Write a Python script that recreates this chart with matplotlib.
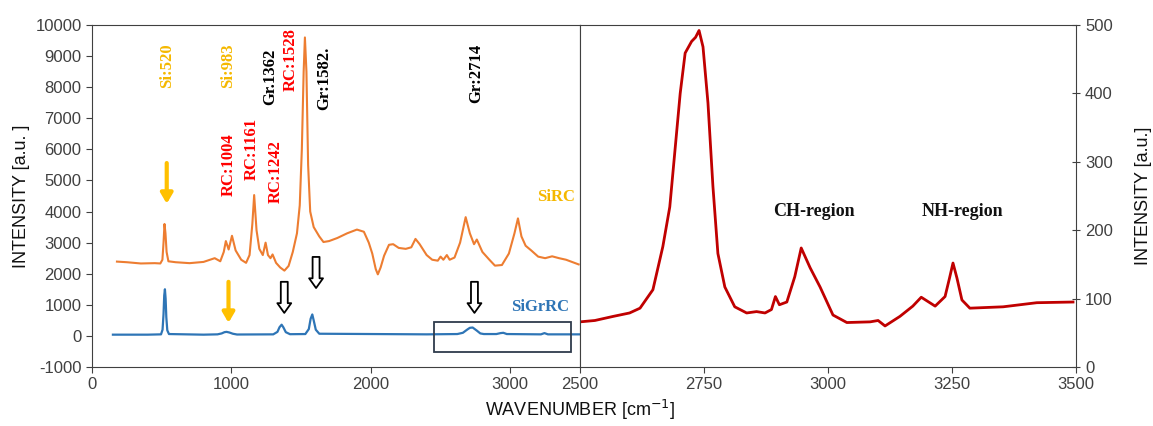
import matplotlib
matplotlib.use("Agg")
import matplotlib.pyplot as plt
from matplotlib.patches import Rectangle

# ---------------- data ----------------
sirc_x = [179, 250, 350, 450, 490, 505, 513, 520, 527, 535, 548, 600, 700, 800, 880, 920, 945, 960, 980,
          1004, 1030, 1070, 1105, 1130, 1150, 1163, 1180, 1200, 1225, 1245, 1262, 1280, 1295,
          1320, 1350, 1380, 1410, 1440, 1470, 1490, 1505, 1518, 1527, 1538, 1550, 1565, 1590,
          1610, 1630, 1660, 1700, 1760, 1830, 1900, 1950, 1985, 2010, 2035, 2050, 2070, 2095,
          2130, 2160, 2200, 2250, 2290, 2320, 2350, 2400, 2440, 2480, 2500, 2520, 2545, 2565,
          2600, 2640, 2680, 2710, 2740, 2760, 2800, 2850, 2890, 2940, 2990, 3030, 3055, 3080,
          3110, 3150, 3200, 3250, 3300, 3350, 3400, 3460, 3490]
sirc_y = [2390, 2370, 2330, 2340, 2330, 2450, 3000, 3600, 3300, 2700, 2400, 2370, 2340, 2380, 2500, 2400,
          2700, 3050, 2780, 3220, 2750, 2450, 2350, 2600, 3600, 4530, 3400, 2800, 2600, 3000,
          2600, 2500, 2620, 2350, 2200, 2100, 2250, 2700, 3300, 4200, 6000, 8500, 9600, 8500,
          5500, 4000, 3500, 3350, 3200, 3020, 3050, 3150, 3300, 3420, 3350, 3000, 2650, 2150,
          1980, 2200, 2580, 2930, 2950, 2830, 2800, 2850, 3120, 2950, 2600, 2450, 2420, 2550,
          2450, 2600, 2450, 2520, 3000, 3820, 3300, 2950, 3100, 2700, 2450, 2260, 2280, 2650,
          3300, 3780, 3200, 2900, 2750, 2550, 2500, 2560, 2500, 2450, 2350, 2300]

sigrrc_x = [150, 400, 495, 506, 513, 518, 523, 528, 533, 540, 552, 800, 900, 930, 950, 965, 985,
            1010, 1040, 1300, 1330, 1345, 1360, 1372, 1390, 1420, 1530, 1555, 1568, 1580, 1590,
            1605, 1630, 2400, 2620, 2660, 2690, 2710, 2730, 2760, 2785, 2810, 2900, 2930, 2950,
            2975, 3220, 3245, 3270, 3500]
sigrrc_y = [40, 40, 50, 200, 700, 1300, 1500, 1200, 600, 180, 60, 40, 50, 80, 120, 130, 110,
            70, 45, 50, 130, 280, 360, 280, 120, 55, 60, 220, 550, 690, 500, 200, 70, 50, 60,
            100, 200, 260, 270, 170, 80, 60, 60, 90, 100, 60, 50, 90, 50, 50]

zoom_x = [2500, 2530, 2567, 2600, 2621, 2647, 2667, 2681, 2691, 2702, 2712, 2725, 2733, 2740,
          2748, 2758, 2768, 2778, 2792, 2812, 2836, 2856, 2873, 2886, 2894, 2902, 2917, 2933,
          2946, 2964, 2984, 3010, 3038, 3085, 3101, 3115, 3145, 3171, 3188, 3216, 3236, 3245,
          3252, 3260, 3270, 3286, 3353, 3421, 3494]
zoom_y = [66, 68, 74, 79, 86, 113, 176, 234, 313, 400, 459, 476, 482, 492, 468, 386, 264, 166,
          117, 88, 79, 81, 79, 84, 103, 91, 95, 132, 174, 145, 117, 76, 65, 66, 68, 60, 74, 89,
          102, 89, 103, 130, 152, 130, 98, 86, 88, 94, 95]

left_yticks = [-1000, 0, 1000, 2000, 3000, 4000, 5000, 6000, 7000, 8000, 9000, 10000]
left_xticks = [0, 1000, 2000, 3000]
right_xticks = [2500, 2750, 3000, 3250, 3500]
right_yticks = [0, 100, 200, 300, 400, 500]

# peak labels: (text, x, y_top, colour)
peak_labels = [("Si:520", 536, 9400, "#F5B800"),
               ("Si:983", 979, 9400, "#F5B800"),
               ("Gr.1362", 1279, 9250, "black"),
               ("RC:1528", 1429, 9900, "red"),
               ("Gr:1582.", 1664, 9300, "black"),
               ("Gr:2714", 2757, 9400, "black"),
               ("RC:1004", 979, 6500, "red"),
               ("RC:1161", 1143, 7000, "red"),
               ("RC:1242", 1321, 6300, "red")]

yellow_arrows = [(536, 5560, 4250), (979, 1740, 420)]
hollow_arrows = [(1379, 1740, 740), (1607, 2540, 1540), (2743, 1740, 740)]

# ---------------- figure ----------------
W, H = 1153, 426
fig = plt.figure(figsize=(W / 100, H / 100), dpi=100)
sans = ["Liberation Sans", "DejaVu Sans"]
serif = ["Liberation Serif", "DejaVu Serif"]
plt.rcParams["font.family"] = sans
plt.rcParams["axes.unicode_minus"] = False

axL = fig.add_axes([92 / W, (H - 367) / H, 488 / W, 342 / H])
axR = fig.add_axes([580 / W, (H - 367) / H, 496 / W, 342 / H])

tick_col = "#404040"
spine_col = "#404040"

axL.plot(sirc_x, sirc_y, color="#ED7D31", lw=1.5)
axL.plot(sigrrc_x, sigrrc_y, color="#2E75B6", lw=1.6)
axL.set_xlim(0, 3500)
axL.set_ylim(-1000, 10000)
axL.set_xticks(left_xticks)
axL.set_yticks(left_yticks)
axL.tick_params(labelsize=12, colors=tick_col, direction="out", length=4)
for s in axL.spines.values():
    s.set_color(spine_col)
axL.set_ylabel("INTENSITY [a.u. ]", fontsize=13, color="#111111", labelpad=4)

axL.add_patch(Rectangle((2450, -515), 986, 965, fill=False, ec="#2F3B4C", lw=1.3, zorder=5))

for txt, x, y, c in peak_labels:
    axL.text(x, y, txt, rotation=90, ha="center", va="top", fontsize=12, fontweight="bold",
             color=c, family=serif)

for x, y0, y1 in yellow_arrows:
    axL.annotate("", xy=(x, y1), xytext=(x, y0),
                 arrowprops=dict(arrowstyle="-|>,head_width=0.35,head_length=0.6",
                                 color="#FFC000", lw=3, shrinkA=0, shrinkB=0))
for x, y0, y1 in hollow_arrows:
    axL.annotate("", xy=(x, y1), xytext=(x, y0),
                 arrowprops=dict(arrowstyle="simple,head_width=1.0,head_length=0.7,tail_width=0.5",
                                 fc="white", ec="black", lw=1.3, shrinkA=0, shrinkB=0))

axL.text(3330, 4470, "SiRC", ha="center", va="center", fontsize=12, fontweight="bold",
         color="#F5B800", family=serif)
axL.text(3214, 930, "SiGrRC", ha="center", va="center", fontsize=12, fontweight="bold",
         color="#2E75B6", family=serif)

axR.plot(zoom_x, zoom_y, color="#C00000", lw=2)
axR.set_xlim(2500, 3500)
axR.set_ylim(0, 500)
axR.set_xticks(right_xticks)
axR.set_yticks(right_yticks)
axR.yaxis.tick_right()
axR.yaxis.set_label_position("right")
axR.tick_params(axis="x", labelsize=12, colors=tick_col, direction="out", length=4)
axR.tick_params(axis="y", labelsize=12, colors=tick_col, direction="inout", length=6)
for s in axR.spines.values():
    s.set_color(spine_col)
axR.set_ylabel("INTENSITY [a.u.]", fontsize=13, color="#111111", labelpad=16)

axR.text(2972, 227, "CH-region", ha="center", va="center", fontsize=13, fontweight="bold",
         color="#111111", family=serif)
axR.text(3272, 227, "NH-region", ha="center", va="center", fontsize=13, fontweight="bold",
         color="#111111", family=serif)

fig.text(580 / W, 1 - 410 / H, "WAVENUMBER [cm$^{-1}$]", ha="center", va="center",
         fontsize=13, color="#111111")

fig.savefig("out.png", dpi=100)
